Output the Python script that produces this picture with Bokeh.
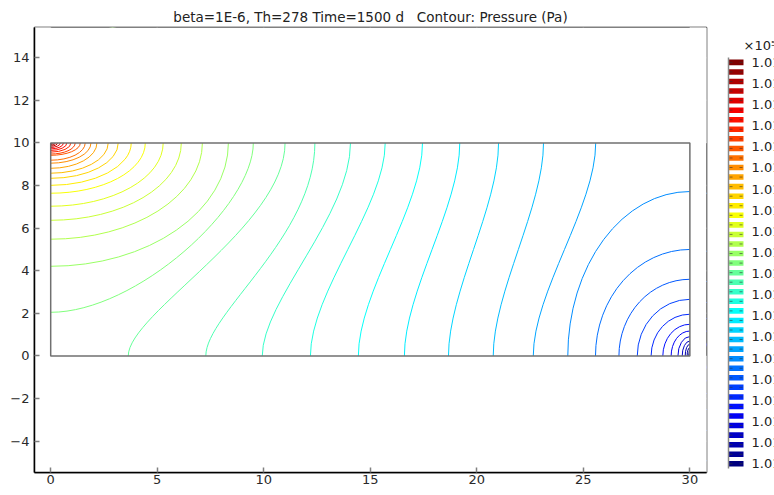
import numpy as np
from bokeh.plotting import figure
from bokeh.layouts import row
from bokeh.models import ColumnDataSource, Range1d, FixedTicker
from bokeh.transform import linear_cmap
from bokeh.core.properties import value
from bokeh.embed import file_html
from bokeh.resources import INLINE

# ---------------- data ----------------
title_text = "beta=1E-6, Th=278 Time=1500 d\u00a0\u00a0\u00a0Contour: Pressure (Pa)"
x_ticks = [0, 5, 10, 15, 20, 25, 30]
y_ticks = [-4, -2, 0, 2, 4, 6, 8, 10, 12, 14]
domain_x = [0, 30]
domain_y = [0, 10]

# low-pressure contours around the bottom-right corner (inner -> outer)
sink_bottom_x = [29.95, 29.87, 29.78, 29.64, 29.44, 29.12, 28.73, 28.18, 27.53, 26.67, 25.57, 24.27]
sink_right_y = [0.27, 0.39, 0.55, 0.70, 0.91, 1.17, 1.49, 1.96, 2.66, 3.60, 5.00, 7.72]

# contours running from the bottom edge to the top edge (lowest -> highest level)
mid_bottom_x = [22.65, 20.77, 18.67, 16.60, 14.44, 12.19, 9.93, 7.28, 3.64]
mid_top_x = [25.58, 23.13, 21.02, 19.20, 17.45, 15.70, 14.07, 12.40, 11.00]
mid_bend_low = [3.0, 3.0, 3.0, 3.0, 3.0, 3.0, 2.6, 2.0, 2.0]
mid_bend_high = [3.0, 3.0, 3.0, 3.0, 3.0, 3.0, 3.4, 4.4, 3.9]

# contour running from the left edge to the top edge
left_contour_y = [2.05]
left_contour_top_x = [9.51]
left_contour_bend = [(4.0, 3.0)]

# high-pressure contours around the top-left corner (outer -> inner)
source_top_x = [8.34, 7.12, 6.13, 5.28, 4.44, 3.78, 3.17, 2.70, 2.17, 1.89, 1.62,
                1.39, 1.15, 0.95, 0.76, 0.60, 0.45, 0.32, 0.21, 0.13, 0.06]
source_left_y = [4.21, 5.48, 6.37, 7.03, 7.64, 8.01, 8.34, 8.58, 8.81, 9.05, 9.19,
                 9.42, 9.48, 9.57, 9.65, 9.72, 9.79, 9.85, 9.90, 9.94, 9.97]

colorbar_label = "1.013"
colorbar_exponent = "\u00d710\u2075"
colorbar_label_count = 20

# ---------------- styling helpers ----------------
def jet(n):
    t = np.linspace(0, 1, n)
    r = np.clip(1.5 - np.abs(4 * t - 3), 0, 1)
    g = np.clip(1.5 - np.abs(4 * t - 2), 0, 1)
    b = np.clip(1.5 - np.abs(4 * t - 1), 0, 1)
    return ["#%02x%02x%02x" % (int(255 * a), int(255 * c), int(255 * d)) for a, c, d in zip(r, g, b)]

palette = jet(256)
n_sink = len(sink_bottom_x)
n_mid = len(mid_bottom_x)
n_left = len(left_contour_y)
n_src = len(source_top_x)
N = n_sink + n_mid + n_left + n_src
cmap = linear_cmap("level", palette, low=0, high=N - 1)

FONT = "DejaVu Sans"
XR = (-0.76, 30.78)
YR = (-5.47, 15.42)

# ---------------- main plot ----------------
p = figure(width=720, height=495, x_range=Range1d(*XR), y_range=Range1d(*YR),
           output_backend="svg", toolbar_location=None,
           min_border_left=34, min_border_right=14, min_border_top=27, min_border_bottom=23,
           title=title_text)
p.xgrid.visible = False
p.ygrid.visible = False
p.outline_line_color = "black"
p.outline_line_width = 1.5
p.background_fill_color = "white"
p.border_fill_color = "white"

p.title.align = "center"
p.title.text_font = FONT
p.title.text_font_size = "13.5px"
p.title.text_font_style = "normal"
p.title.text_color = "#222222"
p.title.standoff = 6

for ax, ticks in ((p.xaxis[0], x_ticks), (p.yaxis[0], y_ticks)):
    ax.ticker = FixedTicker(ticks=ticks)
    ax.axis_line_color = "black"
    ax.axis_line_width = 1.5
    ax.major_tick_in = 5
    ax.major_tick_out = 0
    ax.major_tick_line_color = "#808080"
    ax.major_tick_line_width = 1.5
    ax.minor_tick_line_color = None
    ax.major_label_text_font = FONT
    ax.major_label_text_font_size = "13px"
    ax.major_label_text_color = "#2a2a2a"
p.xaxis[0].major_label_standoff = 2
p.yaxis[0].major_label_standoff = 5

# inward ticks on the top and right frame edges
tick_len_x = 5.0 * (XR[1] - XR[0]) / 672.0
tick_len_y = 5.0 * (YR[1] - YR[0]) / 445.0
p.segment(x0=x_ticks, x1=x_ticks, y0=[YR[1]] * len(x_ticks), y1=[YR[1] - tick_len_y] * len(x_ticks),
          line_color="#808080", line_width=1.5)
p.segment(x0=[XR[1]] * len(y_ticks), x1=[XR[1] - tick_len_x] * len(y_ticks), y0=y_ticks, y1=y_ticks,
          line_color="#808080", line_width=1.5)

# corner contours drawn as ellipse outlines centred on the domain corners
sink = ColumnDataSource(dict(
    x=[domain_x[1]] * n_sink, y=[domain_y[0]] * n_sink,
    w=[2 * (domain_x[1] - v) for v in sink_bottom_x],
    h=[2 * (v - domain_y[0]) for v in sink_right_y],
    level=list(range(n_sink))))
src = ColumnDataSource(dict(
    x=[domain_x[0]] * n_src, y=[domain_y[1]] * n_src,
    w=[2 * (v - domain_x[0]) for v in source_top_x],
    h=[2 * (domain_y[1] - v) for v in source_left_y],
    level=list(range(n_sink + n_mid + n_left, N))))
p.ellipse(x="x", y="y", width="w", height="h", source=sink, fill_color=None, line_color=cmap, line_width=1)
p.ellipse(x="x", y="y", width="w", height="h", source=src, fill_color=None, line_color=cmap, line_width=1)

# white mask outside the domain
p.quad(left=[-100, domain_x[1], -100, -100], right=[domain_x[0], 100, 100, 100],
       bottom=[-100, -100, domain_y[1], -100], top=[100, 100, 100, domain_y[0]],
       fill_color="white", line_color=None)

mid = ColumnDataSource(dict(
    x0=mid_bottom_x, y0=[domain_y[0]] * n_mid,
    x1=mid_top_x, y1=[domain_y[1]] * n_mid,
    cx0=mid_bottom_x, cy0=[domain_y[0] + v for v in mid_bend_low],
    cx1=mid_top_x, cy1=[domain_y[1] - v for v in mid_bend_high],
    level=list(range(n_sink, n_sink + n_mid))))
p.bezier(x0="x0", y0="y0", x1="x1", y1="y1", cx0="cx0", cy0="cy0", cx1="cx1", cy1="cy1",
         source=mid, line_color=cmap, line_width=1)

left = ColumnDataSource(dict(
    x0=[domain_x[0]] * n_left, y0=left_contour_y,
    x1=left_contour_top_x, y1=[domain_y[1]] * n_left,
    cx0=[domain_x[0] + b[0] for b in left_contour_bend], cy0=left_contour_y,
    cx1=left_contour_top_x, cy1=[domain_y[1] - b[1] for b in left_contour_bend],
    level=list(range(n_sink + n_mid, n_sink + n_mid + n_left))))
p.bezier(x0="x0", y0="y0", x1="x1", y1="y1", cx0="cx0", cy0="cy0", cx1="cx1", cy1="cy1",
         source=left, line_color=cmap, line_width=1)

p.quad(left=[domain_x[0]], right=[domain_x[1]], bottom=[domain_y[0]], top=[domain_y[1]],
       fill_color=None, line_color="#707070", line_width=1.5)

# ---------------- colour legend ----------------
ppl = 411.0 / N            # pixels per level band (bar spans 57..468 px)
cb = figure(width=54, height=495, x_range=Range1d(0, 54),
            y_range=Range1d(-4.0 / ppl, N + 30.0 / ppl),
            output_backend="svg", toolbar_location=None,
            min_border_left=0, min_border_right=0, min_border_top=27, min_border_bottom=23,
            x_axis_type=None, y_axis_type=None)
cb.outline_line_color = None
cb.xgrid.visible = False
cb.ygrid.visible = False

levels = list(range(N))
bands = ColumnDataSource(dict(level=levels,
                              bottom=[k + 0.2 for k in levels],
                              top=[k + 0.78 for k in levels],
                              mid=[k + 0.49 for k in levels]))
cb.quad(left=8, right=23, bottom="bottom", top="top", source=bands, fill_color=cmap, line_color=None)
cb.segment(x0=9, x1=12, y0="mid", y1="mid", source=bands, line_color="#333333", line_alpha=0.6, line_width=1)
cb.segment(x0=19, x1=22, y0="mid", y1="mid", source=bands, line_color="#333333", line_alpha=0.6, line_width=1)
cb.segment(x0=[8], x1=[8], y0=[0], y1=[N], line_color="#888888", line_width=1.5)

# labels evenly spaced from the top band centre to the bottom band centre
top_c = N - 0.5
bot_c = 0.5
lab_y = [top_c - i * (top_c - bot_c) / (colorbar_label_count - 1) for i in range(colorbar_label_count)]
cb.text(x=31, y=lab_y, text=[colorbar_label] * colorbar_label_count,
        text_font=value(FONT), text_font_size="13px", text_color="#222222",
        text_align="left", text_baseline="middle")
cb.text(x=[23], y=[N + 12.0 / ppl], text=[colorbar_exponent],
        text_font=value(FONT), text_font_size="13px", text_color="#222222",
        text_align="left", text_baseline="middle")

layout = row(p, cb)
open("out.html", "w").write(file_html(layout, INLINE))
